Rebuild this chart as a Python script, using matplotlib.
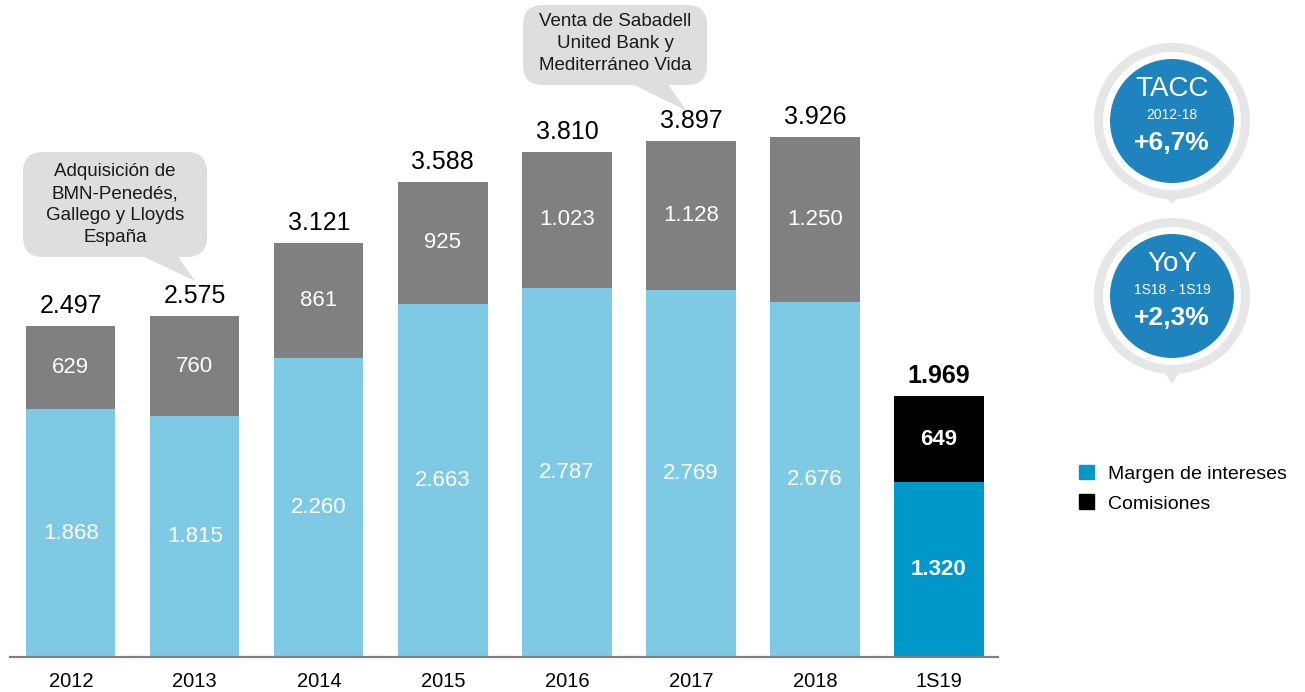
import matplotlib
matplotlib.use("Agg")
import matplotlib.pyplot as plt
from matplotlib.patches import FancyBboxPatch, Polygon, Circle, Patch

plt.rcParams['font.family'] = ['Liberation Sans', 'DejaVu Sans']

# Data
periodos = ['2012', '2013', '2014', '2015', '2016', '2017', '2018', '1S19']
margen = [1868, 1815, 2260, 2663, 2787, 2769, 2676, 1320]
comisiones = [629, 760, 861, 925, 1023, 1128, 1250, 649]
totales = [2497, 2575, 3121, 3588, 3810, 3897, 3926, 1969]

col_margen = ['#7ECAE4'] * 7 + ['#0098C8']
col_comis = ['#808080'] * 7 + ['#000000']


def fmt(v):
    """Format with a dot as thousands separator."""
    return f"{v:,}".replace(",", ".")


W, H = 1305, 692
fig = plt.figure(figsize=(W / 100, H / 100), dpi=100)
ax = fig.add_axes([10 / W, 35 / H, 988 / W, 657 / H])

x = list(range(len(periodos)))
ax.bar(x, margen, width=0.72, color=col_margen, zorder=2)
ax.bar(x, comisiones, width=0.72, bottom=margen, color=col_comis, zorder=2)

ax.set_xlim(-0.49, 7.476)
ax.set_ylim(0, 4958)

for i in x:
    bold = 'bold' if periodos[i] == '1S19' else 'normal'
    ax.text(i, margen[i] / 2, fmt(margen[i]), ha='center', va='center',
            color='white', fontsize=16, fontweight=bold)
    ax.text(i, margen[i] + comisiones[i] / 2, fmt(comisiones[i]), ha='center',
            va='center', color='white', fontsize=16, fontweight=bold)
    ax.text(i, totales[i] + 60, fmt(totales[i]), ha='center', va='bottom',
            color='black', fontsize=18, fontweight=bold)

ax.set_xticks(x)
ax.set_xticklabels(periodos, fontsize=14.5)
ax.tick_params(axis='x', length=0, pad=11)
ax.set_yticks([])
for s in ['top', 'right', 'left']:
    ax.spines[s].set_visible(False)
ax.spines['bottom'].set_color('#808080')
ax.spines['bottom'].set_linewidth(1.6)
ax.spines['bottom'].set_zorder(3)

# Overlay in pixel coordinates for the callouts
ov = fig.add_axes([0, 0, 1, 1])
ov.set_xlim(0, W)
ov.set_ylim(H, 0)
ov.axis('off')
ov.patch.set_visible(False)

burbuja = '#DEDEDE'


def speech(x0, y0, x1, y1, tail, lines, ystart, step):
    ov.add_patch(FancyBboxPatch((x0 + 20, y0 + 20), x1 - x0 - 40, y1 - y0 - 40,
                                boxstyle='round,pad=20', fc=burbuja, ec='none'))
    ov.add_patch(Polygon(tail, closed=True, fc=burbuja, ec='none'))
    for k, t in enumerate(lines):
        ov.text((x0 + x1) / 2, ystart + k * step, t, ha='center', va='center',
                fontsize=13.5, color='#1A1A1A')


speech(23, 152, 207, 257, [(140, 255), (177, 255), (195, 281)],
       ['Adquisición de', 'BMN-Penedés,', 'Gallego y Lloyds', 'España'], 172, 21.7)
speech(523, 5, 707, 85, [(630, 83), (667, 83), (687, 111)],
       ['Venta de Sabadell', 'United Bank y', 'Mediterráneo Vida'], 21, 22.5)


def pin(cx, cy, tip, t1, t2, t3):
    ov.add_patch(Polygon([(cx - 12, cy + 70), (cx + 12, cy + 70), (cx, tip)],
                         closed=True, fc='#E6E6E6', ec='none'))
    ov.add_patch(Circle((cx, cy), 78, fc='#E6E6E6', ec='none'))
    ov.add_patch(Circle((cx, cy), 69, fc='white', ec='none'))
    ov.add_patch(Circle((cx, cy), 62, fc='#1F83BD', ec='none'))
    ov.text(cx, cy - 32, t1, ha='center', va='center', color='white', fontsize=20)
    ov.text(cx, cy - 6, t2, ha='center', va='center', color='white', fontsize=10)
    ov.text(cx, cy + 22, t3, ha='center', va='center', color='white', fontsize=19,
            fontweight='bold')


pin(1172, 121, 204, 'TACC', '2012-18', '+6,7%')
pin(1172, 296, 384, 'YoY', '1S18 - 1S19', '+2,3%')

handles = [Patch(color='#0098C8'), Patch(color='#000000')]
fig.legend(handles, ['Margen de intereses', 'Comisiones'], loc='upper left',
           bbox_to_anchor=(1061 / W, 1 - 447 / H), frameon=False, fontsize=14,
           handlelength=0.8, handleheight=0.8, handletextpad=0.7, labelspacing=0.6)

fig.savefig('out.png', dpi=100)
